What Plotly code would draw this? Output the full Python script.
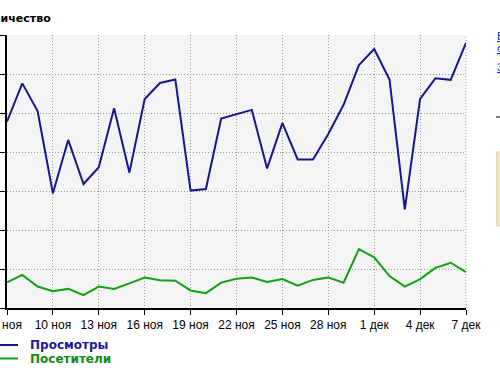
import pandas as pd
import plotly.graph_objects as go

dates = pd.date_range("2009-11-07", "2009-12-07", freq="D")
views = [478, 576, 505, 294, 431, 318, 361, 512, 347, 536, 577, 586, 301, 305, 486, 497,
         508, 358, 474, 381, 381, 446, 521, 623, 664, 586, 253, 536, 589, 585, 680]
visitors = [66, 85, 55, 43, 49, 33, 55, 49, 63, 78, 71, 70, 45, 38, 65, 75,
            78, 67, 74, 57, 72, 78, 65, 151, 130, 82, 55, 74, 103, 116, 92]
tick_dates = dates[::3]
tick_text = ["7 ноя", "10 ноя", "13 ноя", "16 ноя", "19 ноя", "22 ноя", "25 ноя",
             "28 ноя", "1 дек", "4 дек", "7 дек"]
y_ticks = [0, 100, 200, 300, 400, 500, 600, 700]

BLUE = "#16168e"
GREEN = "#12a012"
GRID = "#9a9a9a"
GDASH = "1px,2px"

fig = go.Figure()
fig.add_trace(go.Scatter(x=dates, y=views, mode="lines", name="Просмотры",
                         line=dict(color=BLUE, width=2), cliponaxis=False))
fig.add_trace(go.Scatter(x=dates, y=visitors, mode="lines", name="Посетители",
                         line=dict(color=GREEN, width=2), cliponaxis=False))

W0, W1, H0, H1 = 7, 466, 35, 308
def px(x):
    return (x - W0) / (W1 - W0)
def py(y):
    return (H1 - y) / (H1 - H0)

fig.update_layout(
    width=500, height=376,
    margin=dict(l=W0, r=500 - W1, t=H0, b=376 - H1, pad=0, autoexpand=False),
    paper_bgcolor="white", plot_bgcolor="#f4f4f4",
    showlegend=False,
    font=dict(family="Liberation Sans, Arial, sans-serif", size=12, color="black"),
)
fig.update_xaxes(
    range=[dates[0], dates[-1]], tickmode="array", tickvals=tick_dates, ticktext=tick_text,
    showgrid=True, gridcolor=GRID, griddash=GDASH, gridwidth=1,
    showline=True, linecolor="black", linewidth=2,
    ticks="outside", ticklen=5, tickwidth=1, tickcolor="black",
    tickfont=dict(size=12, color="black"), zeroline=False,
    ticklabeloverflow="allow", automargin=False,
)
fig.update_yaxes(
    range=[0, 700], tickmode="array", tickvals=y_ticks, showticklabels=False,
    showgrid=True, gridcolor=GRID, griddash=GDASH, gridwidth=1,
    showline=True, linecolor="black", linewidth=2,
    ticks="outside", ticklen=6, tickwidth=1, tickcolor="black", zeroline=False,
    automargin=False,
)

ann = []
ann.append(dict(text="<b>Количество</b>", x=px(53), y=py(19), xref="paper", yref="paper",
                xanchor="right", yanchor="middle", showarrow=False,
                font=dict(family="DejaVu Sans, sans-serif", size=11, color="black")))
ann.append(dict(text="<b>Просмотры</b>", x=px(28), y=py(345), xref="paper", yref="paper",
                xanchor="left", yanchor="middle", showarrow=False,
                font=dict(family="DejaVu Sans, sans-serif", size=12, color="#1a1a9a")))
ann.append(dict(text="<b>Посетители</b>", x=px(28), y=py(358.5), xref="paper", yref="paper",
                xanchor="left", yanchor="middle", showarrow=False,
                font=dict(family="DejaVu Sans, sans-serif", size=12, color="#108a10")))
for t, yy in [("<u>Блог</u>", 36), ("<u>обзор</u>", 48), ("<u>Запись</u>", 67)]:
    ann.append(dict(text=t, x=px(495), y=py(yy), xref="paper", yref="paper",
                    xanchor="left", yanchor="middle", showarrow=False,
                    font=dict(family="Liberation Sans, Arial, sans-serif", size=11, color="#2222dd")))
fig.update_layout(annotations=ann)

shapes = [
    dict(type="line", xref="paper", yref="paper", x0=1, x1=1, y0=0, y1=1,
         line=dict(color=GRID, width=1, dash=GDASH), layer="below"),
    dict(type="line", xref="paper", yref="paper", x0=px(0), x1=px(18), y0=py(345), y1=py(345),
         line=dict(color=BLUE, width=2)),
    dict(type="line", xref="paper", yref="paper", x0=px(0), x1=px(18), y0=py(358.5), y1=py(358.5),
         line=dict(color=GREEN, width=2)),
    dict(type="line", xref="paper", yref="paper", x0=px(496), x1=px(500), y0=py(117), y1=py(117),
         line=dict(color="black", width=1)),
    dict(type="rect", xref="paper", yref="paper", x0=px(496.5), x1=px(510), y0=py(152), y1=py(226),
         line=dict(color="#f2d49a", width=1), fillcolor="#e2e2e2"),
]
fig.update_layout(shapes=shapes)

fig.write_html("out.html", config={"displayModeBar": False},
               post_script="document.body.style.margin='0';document.body.style.overflow='hidden';")
